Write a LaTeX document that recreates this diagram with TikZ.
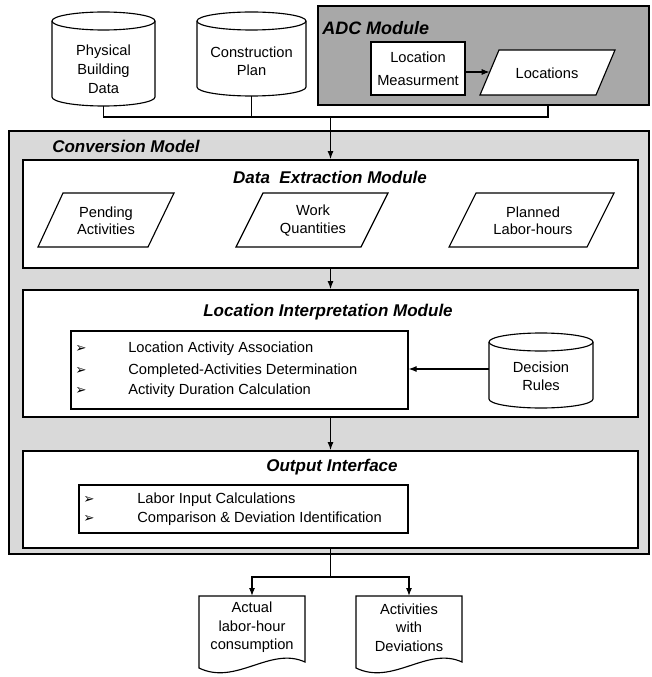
\documentclass[tikz,border=0pt]{standalone}
\usepackage{fontspec}
\setmainfont{Liberation Sans}
\newfontfamily\dejavu{DejaVu Sans}
\usetikzlibrary{arrows.meta,fit,calc}
\definecolor{convgray}{gray}{0.85}
\definecolor{adcgray}{gray}{0.66}
\newcommand\bul{{\dejavu\fontsize{10}{10}\selectfont ➢}}
\begin{document}
\begin{tikzpicture}[x=0.75pt,y=-0.75pt,
  every node/.style={font=\fontsize{11}{13.5}\selectfont, align=center, inner sep=0},
  bigbox/.style={draw, line width=1.4pt, inner sep=0},
  modbox/.style={draw, line width=1.4pt, fill=white, inner sep=0},
  shp/.style={draw, line width=0.85pt, fill=white},
  conn/.style={line width=0.85pt},
  arr/.style={conn, -{Latex[length=6pt,width=4.5pt]}},
  ttl/.style={font=\fontsize{12.75}{14}\selectfont\bfseries\itshape},
  lst/.style={anchor=west, align=left},
]
\useasboundingbox (0,0) rectangle (651,677);

% ---------------- outer boxes
\node[bigbox, fill=convgray, fit={(9,131)(649,554)}] (cm) {};
\node[bigbox, fill=adcgray, fit={(318,6)(649,105)}] (adc) {};
\node[ttl, font=\fontsize{12.75}{14}\selectfont\bfseries\itshape, anchor=west] (cmt) at (52,146) {Conversion Model};
\node[ttl, font=\fontsize{13.5}{15}\selectfont\bfseries\itshape, anchor=west] (adct) at (322,28) {ADC Module};

% ---------------- input cylinders
\draw[shp] (52,21) -- (52,97) arc[start angle=180,end angle=360,x radius=38.625pt,y radius=6.75pt]
  -- (155,21) arc[start angle=0,end angle=180,x radius=38.625pt,y radius=6.75pt] -- cycle;
\draw[conn] (52,21) arc[start angle=180,end angle=360,x radius=38.625pt,y radius=6.75pt];
\node[font=\fontsize{11}{14.25}\selectfont] (pbd) at (103.5,69) {Physical\\Building\\Data};
\coordinate (pbdB) at (103.5,106);

\draw[shp] (197,21) -- (197,87) arc[start angle=180,end angle=360,x radius=40.875pt,y radius=6.75pt]
  -- (306,21) arc[start angle=0,end angle=180,x radius=40.875pt,y radius=6.75pt] -- cycle;
\draw[conn] (197,21) arc[start angle=180,end angle=360,x radius=40.875pt,y radius=6.75pt];
\node (cp) at (251.5,61) {Construction\\Plan};
\coordinate (cpB) at (251.5,96);

% ---------------- ADC content
\node[shp, minimum width=70.5pt, minimum height=39.75pt, font=\fontsize{11}{17}\selectfont] (lm) at (418,68.5) {Location\\Measurment};
\draw[shp] (480,95) -- (596,95) -- (615,50) -- (499,50) -- cycle;
\node (loc) at (547,73) {Locations};
\coordinate (locL) at (489.7,72);
\draw[arr] (lm.east |- locL) -- (locL);

% ---------------- input connectors
\coordinate (jl) at (103.5,117);
\coordinate (jr) at (548,117);
\coordinate (ja) at (330.5,117);
\draw[conn] (pbdB) -- (jl) -- (jr) -- (jr |- adc.south);
\draw[conn] (cpB) -- (cpB |- jl);

% ---------------- Data Extraction Module
\node[modbox, fit={(23,160)(638,268)}] (dem) {};
\node[ttl] (demt) at (330,177) {Data\ \ Extraction Module};
\draw[arr] (ja) -- (dem.north);

\draw[shp] (38,247) -- (148,247) -- (174,193) -- (63,193) -- cycle;
\node[font=\fontsize{11}{13}\selectfont] (pa) at (106,220.5) {Pending\\Activities};
\draw[shp] (236,247) -- (361,247) -- (388,193) -- (263,193) -- cycle;
\node[font=\fontsize{11}{13}\selectfont] (wq) at (313,220.5) {Work\\Quantities};
\draw[shp] (449,247) -- (587,247) -- (614,193) -- (476,193) -- cycle;
\node[font=\fontsize{11}{13}\selectfont] (pl) at (533,220.5) {Planned\\Labor-hours};

% ---------------- Location Interpretation Module
\node[modbox, fit={(23,290)(638,417)}] (lim) {};
\node[ttl] (limt) at (328,312) {Location Interpretation Module};
\draw[arr] (dem.south) -- (lim.north);

\node[shp, fit={(71,331)(408,409)}, inner sep=0] (lbox) {};
\node[lst] (b1) at (75,349) {\bul};
\node[lst] (b2) at (75,371) {\bul};
\node[lst] (b3) at (75,391) {\bul};
\node[lst] (l1) at (128,349) {Location Activity Association};
\node[lst] (l2) at (128,371) {Completed-Activities Determination};
\node[lst] (l3) at (128,391) {Activity Duration Calculation};

\draw[shp] (489,342) -- (489,399) arc[start angle=180,end angle=360,x radius=39pt,y radius=6.75pt]
  -- (593,342) arc[start angle=0,end angle=180,x radius=39pt,y radius=6.75pt] -- cycle;
\draw[conn] (489,342) arc[start angle=180,end angle=360,x radius=39pt,y radius=6.75pt];
\node (dr) at (541,376) {Decision\\Rules};
\coordinate (drL) at (489,369);
\draw[arr] (drL) -- (lbox.east |- drL);

% ---------------- Output Interface
\node[modbox, fit={(23,451)(638,548)}] (oi) {};
\node[ttl] (oit) at (332,467) {Output Interface};
\draw[arr] (lim.south) -- (oi.north);

\node[shp, fit={(79,485)(408,533)}, inner sep=0] (obox) {};
\node[lst] (ob1) at (83,500) {\bul};
\node[lst] (ob2) at (83,519) {\bul};
\node[lst] (o1) at (137,500) {Labor Input Calculations};
\node[lst] (o2) at (137,519) {Comparison \& Deviation Identification};

% ---------------- output documents
\draw[shp] (199,596) -- (305,596) -- (305,662)
  .. controls (270,646) and (236,686) .. (199,668) -- cycle;
\node[font=\fontsize{11}{13.75}\selectfont] (d1) at (252,627.5) {Actual\\labor-hour\\consumption};
\coordinate (d1t) at (252,596);
\draw[shp] (356,596) -- (462,596) -- (462,662)
  .. controls (427,646) and (393,686) .. (356,668) -- cycle;
\node[font=\fontsize{11}{13.75}\selectfont] (d2) at (409,627.5) {Activities\\with\\Deviations};
\coordinate (d2t) at (409,596);

\coordinate (oj) at (330.5,577);
\draw[conn] (oi.south) -- (oj);
\draw[arr] (oj) -| (d1t);
\draw[arr] (oj) -| (d2t);
\end{tikzpicture}
\end{document}
